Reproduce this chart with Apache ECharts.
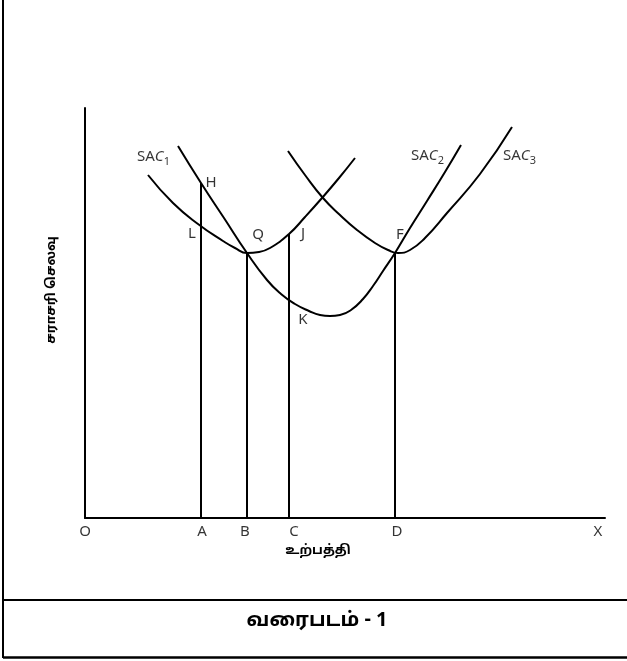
<!DOCTYPE html>
<html>
<head>
<meta charset="utf-8">
<script src="https://cdn.jsdelivr.net/npm/echarts@6/dist/echarts.min.js"></script>
<style>
  html, body { margin: 0; padding: 0; background: #fff; }
  #chart { width: 627px; height: 661px; }
</style>
</head>
<body>
<div id="chart"></div>
<script>
// cost curves, points (x = output, y = cost)
var sac1 = [[63, 343], [88, 315], [113, 294], [138, 277], [150, 270], [162, 265], [174, 266], [185, 270], [204, 284], [220, 301], [237, 320], [254, 340], [270, 360]];
var sac2 = [[93, 372], [116, 335], [139, 300], [162, 265], [182, 238], [196, 224], [210, 214], [224, 207], [235, 203], [245, 202], [255, 203], [266, 208], [278, 219], [288, 232], [298, 247], [310, 265], [325, 290], [342, 317], [360, 346], [376, 373]];
var sac3 = [[203, 367], [220, 343], [238, 320], [255, 303], [272, 288], [290, 275], [303, 268], [313, 265], [325, 268], [340, 280], [362, 305], [395, 344], [427, 391]];

// verticals from the x axis up to H, Q, J, F
var dropLines = [[116, 335], [162, 265], [204, 284], [310, 265]];

// point letters
var pointLabels = [
  ['H', 126, 335], ['L', 107, 284], ['Q', 173, 283],
  ['J', 218, 284], ['K', 218, 198], ['F', 315, 283]
];
// letters under the x axis
var axisLetters = [['O', 0], ['A', 117], ['B', 160], ['C', 209], ['D', 312], ['X', 513]];
// curve names
var curveNames = [['1', 52, 360], ['2', 326, 361], ['3', 418, 361]];

var yTitle = 'சராசரி செலவு';
var xTitle = 'உற்பத்தி';
var figTitle = 'வரைபடம் - 1';

var latin = "'Noto Sans', 'Open Sans', sans-serif";
var tamil = "'Noto Sans Tamil', 'Lohit Tamil', 'Latha', sans-serif";

var chart = echarts.init(document.getElementById('chart'));

var lineStyle = { color: '#000', width: 2 };

var series = [];
[sac1, sac2, sac3].forEach(function (pts) {
  series.push({
    type: 'line',
    data: pts,
    smooth: true,
    showSymbol: false,
    lineStyle: lineStyle,
    silent: true
  });
});

dropLines.forEach(function (p) {
  series.push({
    type: 'line',
    data: [[p[0], 0], [p[0], p[1]]],
    showSymbol: false,
    lineStyle: lineStyle,
    silent: true
  });
});

series.push({
  type: 'scatter',
  symbolSize: 0,
  clip: false,
  data: pointLabels.map(function (d) { return { name: d[0], value: [d[1], d[2]] }; })
    .concat(axisLetters.map(function (d) { return { name: d[0], value: [d[1], -14] }; })),
  label: {
    show: true,
    position: 'inside',
    formatter: '{b}',
    color: '#000',
    fontFamily: latin,
    fontSize: 15
  },
  silent: true
});

series.push({
  type: 'scatter',
  symbolSize: 0,
  clip: false,
  data: curveNames.map(function (d) { return { name: d[0], value: [d[1], d[2]] }; }),
  label: {
    show: true,
    position: 'right',
    distance: 0,
    formatter: function (p) { return '{n|SA}{i|C}{s|' + p.name + '}'; },
    rich: {
      n: { fontFamily: latin, fontSize: 15, color: '#000', lineHeight: 18, verticalAlign: 'top' },
      i: { fontFamily: latin, fontSize: 15, fontStyle: 'italic', color: '#000', lineHeight: 18, verticalAlign: 'top' },
      s: { fontFamily: latin, fontSize: 11, color: '#000', lineHeight: 8, verticalAlign: 'bottom' }
    }
  },
  silent: true
});

var option = {
  animation: false,
  backgroundColor: '#fff',
  grid: { left: 85, right: 22, top: 108, bottom: 143 },
  xAxis: {
    type: 'value', min: 0, max: 520,
    axisLine: { show: true, onZero: false, lineStyle: { color: '#000', width: 2 } },
    axisTick: { show: false }, axisLabel: { show: false }, splitLine: { show: false }
  },
  yAxis: {
    type: 'value', min: 0, max: 410,
    axisLine: { show: true, onZero: false, lineStyle: { color: '#000', width: 2 } },
    axisTick: { show: false }, axisLabel: { show: false }, splitLine: { show: false }
  },
  graphic: [
    // frame
    { type: 'line', shape: { x1: 3, y1: 0, x2: 3, y2: 658 }, style: { stroke: '#000', lineWidth: 2 } },
    { type: 'line', shape: { x1: 3, y1: 600, x2: 627, y2: 600 }, style: { stroke: '#000', lineWidth: 2 } },
    { type: 'line', shape: { x1: 3, y1: 657.5, x2: 627, y2: 657.5 }, style: { stroke: '#000', lineWidth: 2.5 } },
    // axis titles and figure caption
    {
      type: 'text', x: 52, y: 290, rotation: Math.PI / 2,
      style: { text: yTitle, fontFamily: tamil, fontWeight: 'bold', fontSize: 13, fill: '#000', align: 'center', verticalAlign: 'middle' }
    },
    {
      type: 'text', x: 318, y: 551,
      style: { text: xTitle, fontFamily: tamil, fontWeight: 'bold', fontSize: 13, fill: '#000', align: 'center', verticalAlign: 'middle' }
    },
    {
      type: 'text', x: 317, y: 622,
      style: { text: figTitle, fontFamily: tamil, fontWeight: 'bold', fontSize: 20, fill: '#000', align: 'center', verticalAlign: 'middle' }
    }
  ],
  series: series
};

chart.setOption(option);
</script>
</body>
</html>
